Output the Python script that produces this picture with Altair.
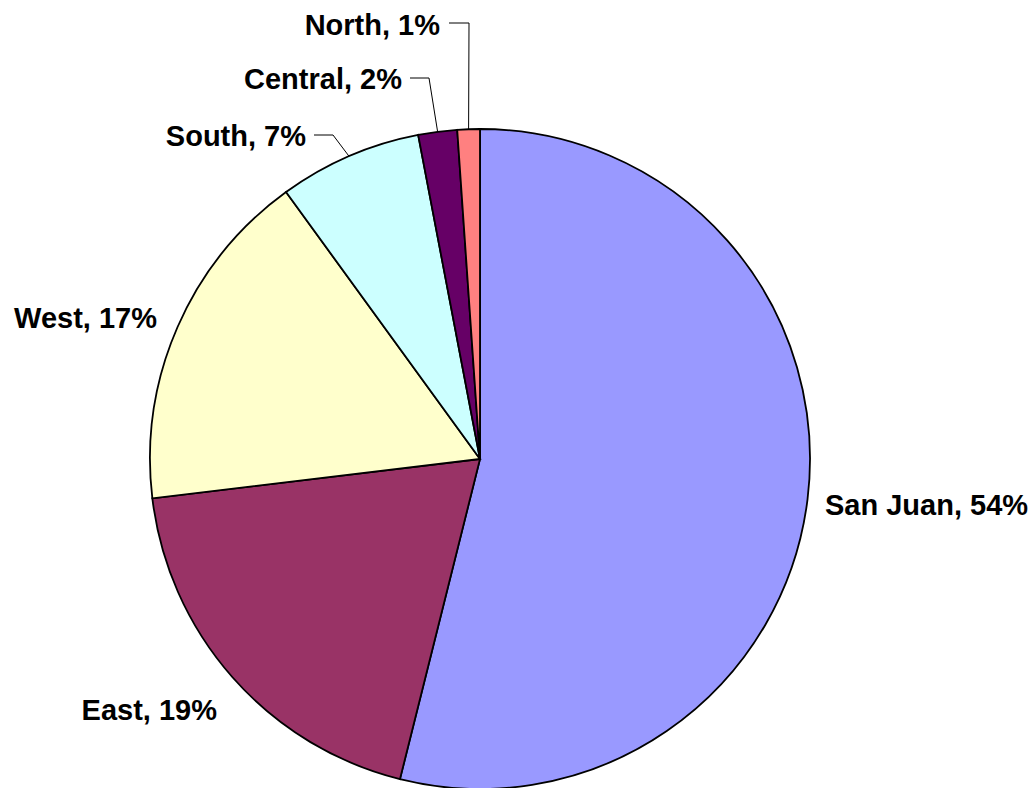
import math
import altair as alt
import pandas as pd

# ---- data ----
regions = ["San Juan", "East", "West", "South", "Central", "North"]
shares = [53.9, 19.2, 16.9, 7.0, 1.9, 1.1]
colors = ["#9999FF", "#993366", "#FFFFCC", "#CCFFFF", "#660066", "#FF8080"]

# ---- layout (pixels in the plot area) ----
W, H = 1020, 780
CX, CY, R = 472, 451, 330
FONT = "Liberation Sans"
FS = 29
# label anchor: (align, x, baseline y)
label_pos = {
    "San Juan": ("left", 817, 507),
    "East": ("right", 209, 712),
    "West": ("right", 149, 320),
    "South": ("right", 298, 138),
    "Central": ("right", 394, 81),
    "North": ("right", 432, 27),
}
# leader lines for the small slices: (start x, elbow x, y)
leaders = {
    "South": (306, 325, 127),
    "Central": (402, 421, 70),
    "North": (441, 461, 15),
}

total = sum(shares)
df = pd.DataFrame({"region": regions, "share": shares, "idx": list(range(len(regions)))})

arc = alt.Chart(df).mark_arc(radius=R, stroke="black", strokeWidth=1.8).encode(
    theta=alt.Theta("share:Q", stack=True),
    color=alt.Color("region:N", scale=alt.Scale(domain=regions, range=colors), legend=None),
    order=alt.Order("idx:Q", sort="ascending"),
    x=alt.value(CX),
    y=alt.value(CY),
)

# labels
rows_l, rows_r = [], []
for name, v in zip(regions, shares):
    al, lx, ly = label_pos[name]
    row = {"text": f"{name}, {round(v / total * 100)}%", "px": lx, "py": ly}
    (rows_l if al == "left" else rows_r).append(row)

def text_layer(rows, align):
    return alt.Chart(pd.DataFrame(rows)).mark_text(
        align=align, baseline="alphabetic", font=FONT, fontSize=FS,
        fontWeight="bold", color="black",
    ).encode(
        x=alt.X("px:Q", scale=None, axis=None),
        y=alt.Y("py:Q", scale=None, axis=None),
        text="text:N",
    )

# leader lines: end point on the slice edge at the slice mid-angle
lead_rows = []
cum = 0.0
for name, v in zip(regions, shares):
    mid = (cum + v / 2) / total * 2 * math.pi
    cum += v
    if name in leaders:
        sx, ex, ly = leaders[name]
        edge_x = CX + R * math.sin(mid)
        edge_y = CY - R * math.cos(mid)
        for k, (px, py) in enumerate([(sx, ly), (ex, ly), (edge_x, edge_y)]):
            lead_rows.append({"region": name, "k": k, "px": px, "py": py})

lines = alt.Chart(pd.DataFrame(lead_rows)).mark_line(color="black", strokeWidth=1).encode(
    x=alt.X("px:Q", scale=None, axis=None),
    y=alt.Y("py:Q", scale=None, axis=None),
    detail="region:N",
    order="k:Q",
)

chart = alt.layer(arc, lines, text_layer(rows_l, "left"), text_layer(rows_r, "right")).properties(
    width=W, height=H, autosize="none", padding=0,
).configure_view(stroke=None)

chart.save("out.html", embed_options={"renderer": "svg", "actions": False})
